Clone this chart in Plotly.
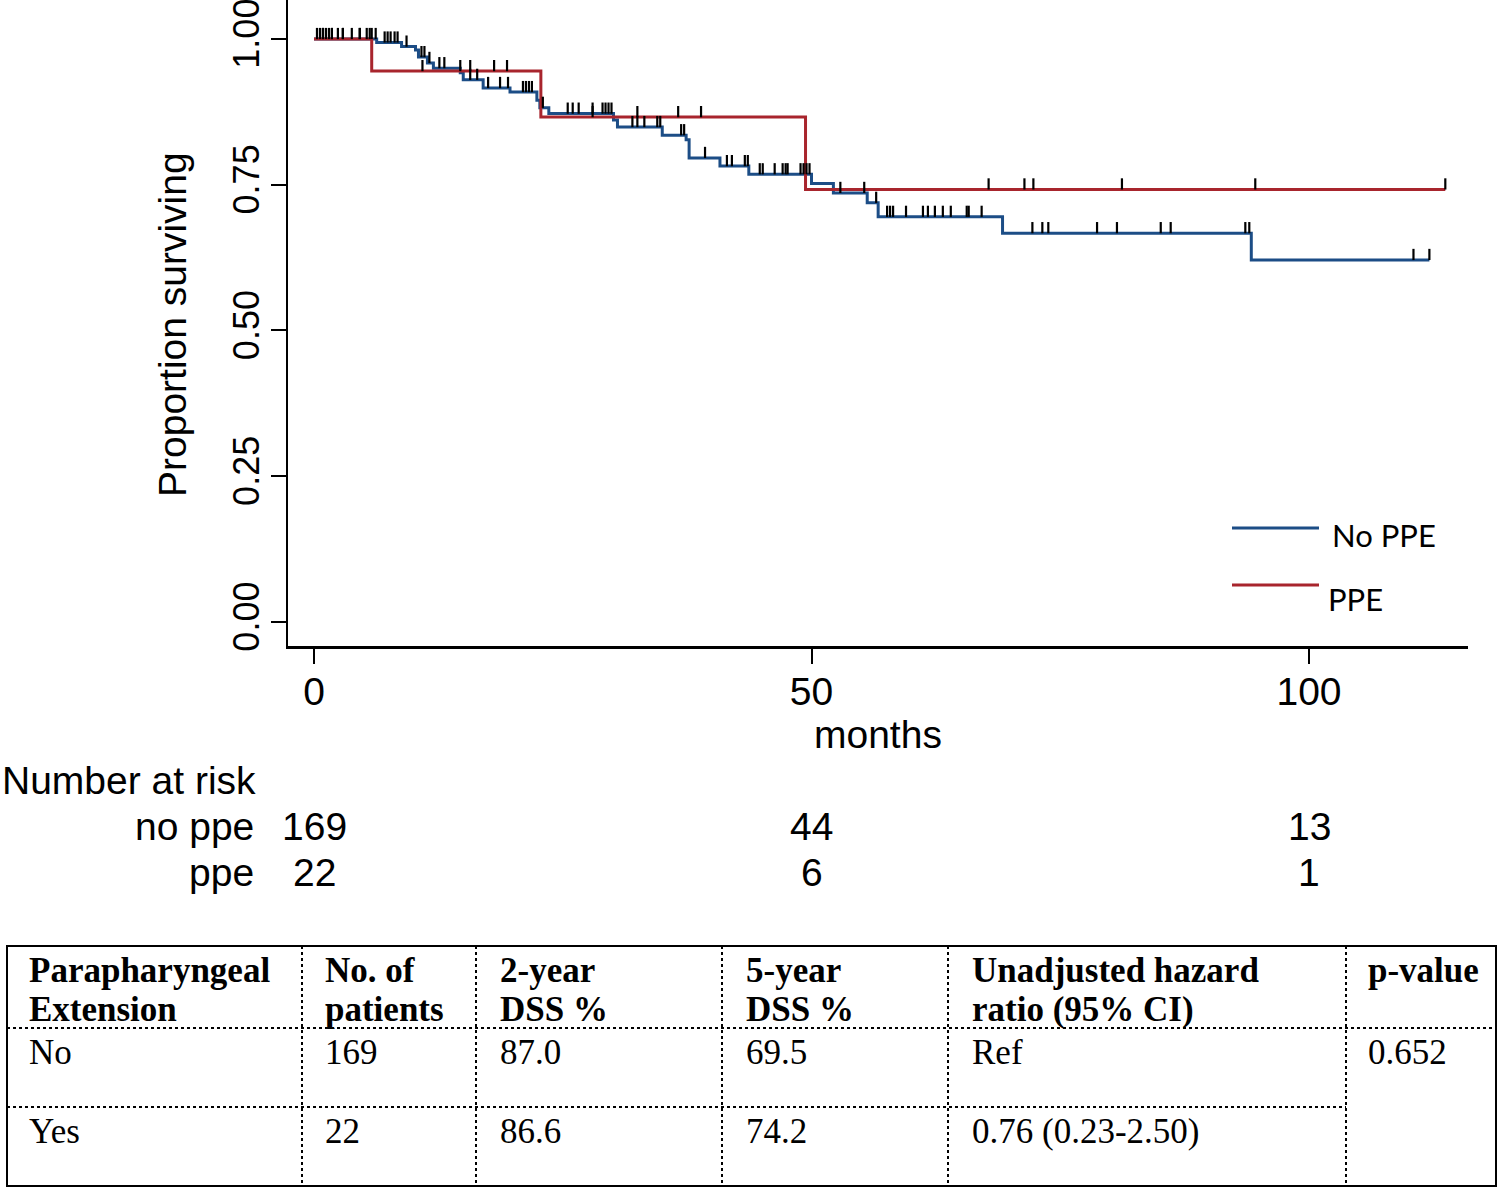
import numpy as np
import plotly.graph_objects as go

# Kaplan-Meier steps (months, survival after the event)
nopp_event_t = [6.3, 8.8, 10.2, 10.5, 11.4, 12.0, 14.7, 15.0, 17.0, 19.7, 22.4, 22.7,
                23.6, 30.1, 30.5, 35.0, 37.4, 37.7, 40.8, 43.7, 50.0, 52.2, 55.6, 56.7,
                69.2, 94.2]
nopp_event_s = [0.994, 0.987, 0.981, 0.969, 0.959, 0.950, 0.942, 0.930, 0.916, 0.909, 0.895, 0.882,
                0.872, 0.861, 0.849, 0.835, 0.827, 0.796, 0.782, 0.768, 0.752, 0.736, 0.719, 0.695,
                0.667, 0.621]
nopp_end = 112.1
nopp_censor = [0.3, 0.6, 0.9, 1.2, 1.5, 1.8, 2.4, 2.9, 3.8, 4.6, 5.3, 5.6, 5.8, 6.2,
               7.1, 7.4, 7.7, 8.1, 8.4, 9.3, 10.8, 11.1, 11.6, 12.6, 13.1, 15.7, 16.4,
               17.5, 18.7, 19.5, 21.0, 21.3, 21.6, 21.9, 23.0,
               25.5, 26.0, 26.6, 28.0, 29.0, 29.3, 29.6, 29.9,
               32.0, 32.5, 33.2, 34.5, 34.8, 36.9, 37.2, 39.3, 41.5, 42.0, 43.3, 43.6,
               44.8, 45.1, 46.3, 47.1, 47.4, 47.6, 48.9, 49.2, 49.5, 49.8,
               52.9, 55.3, 56.5, 57.6, 57.9, 58.2, 59.5, 61.2, 61.7, 62.4, 63.2, 64.0,
               65.6, 65.8, 67.1, 72.2, 73.2, 73.8, 78.7, 80.7, 85.1, 86.1, 93.6, 94.0,
               110.5, 112.1]

ppe_event_t = [5.8, 22.8, 49.4]
ppe_event_s = [0.945, 0.866, 0.742]
ppe_end = 113.7
ppe_censor = [0.9, 1.8, 2.9, 4.6, 10.9, 14.7, 15.7, 18.1, 19.4, 28.0, 32.5, 36.6, 38.9,
              67.8, 71.4, 72.3, 81.2, 94.6, 113.7]

risk_times = [0, 50, 100]
risk_nopp = [169, 44, 13]
risk_ppe = [22, 6, 1]

tbl_head = [["Parapharyngeal", "Extension"], ["No. of", "patients"], ["2-year", "DSS %"],
            ["5-year", "DSS %"], ["Unadjusted hazard", "ratio (95% CI)"], ["p-value", ""]]
tbl_rows = [["No", "169", "87.0", "69.5", "Ref", "0.652"],
            ["Yes", "22", "86.6", "74.2", "0.76 (0.23-2.50)", ""]]

BLUE = "#1c4d86"
RED = "#a8252d"

W, H = 1500, 1189
L, R, T, B = 288, 32, 0, 543
PW, PH = W - L - R, H - T - B


# helpers: reference-image pixel -> paper coordinate
def px(p):
    return (p - L) / PW


def py(p):
    return (H - B - p) / PH


def step_xy(times, surv, end):
    x = [0] + list(times) + [end]
    y = [1.0] + list(surv) + [surv[-1]]
    return x, y


def surv_at(times, surv, t):
    i = np.searchsorted(np.array(times), t, side="right")
    return 1.0 if i == 0 else surv[i - 1]


fig = go.Figure()
half_tick = 5.5 / 583  # tick rises from the curve

for times, surv, end, col, name in [
        (nopp_event_t, nopp_event_s, nopp_end, BLUE, "No PPE"),
        (ppe_event_t, ppe_event_s, ppe_end, RED, "PPE")]:
    x, y = step_xy(times, surv, end)
    fig.add_trace(go.Scatter(x=x, y=y, mode="lines", line=dict(color=col, width=3, shape="hv"),
                             name=name, showlegend=False))

for times, surv, cens in [(nopp_event_t, nopp_event_s, nopp_censor),
                          (ppe_event_t, ppe_event_s, ppe_censor)]:
    cy = [surv_at(times, surv, t) + half_tick for t in cens]
    fig.add_trace(go.Scatter(x=cens, y=cy, mode="markers", showlegend=False,
                             marker=dict(symbol="line-ns", size=8,
                                         line=dict(color="black", width=2.2))))

YT_FONT = dict(family="Liberation Sans, Arial", size=36, color="black")
AX_FONT = dict(family="Liberation Sans, Arial", size=39, color="black")

fig.update_layout(
    width=W, height=H, margin=dict(l=L, r=R, t=T, b=B),
    paper_bgcolor="white", plot_bgcolor="white",
    xaxis=dict(range=[-2.613, 115.98], tickvals=[0, 50, 100], ticks="outside", ticklen=15,
               tickwidth=1.5, tickcolor="black", showline=True, linecolor="black", linewidth=2.5,
               showgrid=False, zeroline=False, tickfont=AX_FONT, ticklabelstandoff=-6,
               automargin=False),
    yaxis=dict(range=[-0.0412, 1.0669], tickvals=[0, 0.25, 0.5, 0.75, 1.0],
               ticktext=["0.00", "0.25", "0.50", "0.75", "1.00"], tickangle=-90,
               ticks="outside", ticklen=15, tickwidth=1.5, tickcolor="black", showline=True,
               linecolor="black", linewidth=2, showgrid=False, zeroline=False,
               tickfont=YT_FONT, ticklabelstandoff=-2, automargin=False,
               ticklabeloverflow="allow"),
)

ann = []


def label(text, x, y, font, xanchor="center", xref="paper", **kw):
    ann.append(dict(text=text, x=x, y=y, xref=xref, yref="paper", xanchor=xanchor,
                    yanchor="middle", font=font, showarrow=False, **kw))


label("Proportion surviving", px(172), py(325), AX_FONT, textangle=-90)
label("months", px(878), py(734), AX_FONT)
label("Number at risk", px(0), py(780), AX_FONT, xanchor="left")
for lab, vals, yy in [("no ppe", risk_nopp, 826), ("ppe", risk_ppe, 872)]:
    label(lab, px(256), py(yy), AX_FONT, xanchor="right")
    for t, v in zip(risk_times, vals):
        label(str(v), t, py(yy), AX_FONT, xref="x")

# legend drawn inside the plot
LEG_FONT = dict(family="Lato, Carlito, sans-serif", size=31, color="black")
shapes = []
for col, yy, lab, ty, tx in [(BLUE, 528, "No PPE", 535, 1330), (RED, 585, "PPE", 599, 1326)]:
    shapes.append(dict(type="line", xref="paper", yref="paper", x0=px(1232), x1=px(1319),
                       y0=py(yy), y1=py(yy), line=dict(color=col, width=3)))
    label(lab, px(tx), py(ty), LEG_FONT, xanchor="left")

# table under the chart
TL, TR, TT, TB = 7, 1496, 946, 1186
col_x = [TL, 302, 476, 722, 948, 1346, TR]
shapes.append(dict(type="rect", xref="paper", yref="paper", x0=px(TL), x1=px(TR),
                   y0=py(TT), y1=py(TB), line=dict(color="black", width=2)))
for cx in col_x[1:-1]:
    shapes.append(dict(type="line", xref="paper", yref="paper", x0=px(cx), x1=px(cx),
                       y0=py(TT), y1=py(TB), line=dict(color="black", width=2, dash="dot")))
shapes.append(dict(type="line", xref="paper", yref="paper", x0=px(TL), x1=px(TR),
                   y0=py(1028), y1=py(1028), line=dict(color="black", width=2, dash="dot")))
shapes.append(dict(type="line", xref="paper", yref="paper", x0=px(TL), x1=px(1346),
                   y0=py(1107), y1=py(1107), line=dict(color="black", width=2, dash="dot")))

TBL_FONT = dict(family="Liberation Serif, Times New Roman", size=35, color="black")
text_x = [27, 323, 498, 744, 970, 1366]
for i, (h1, h2) in enumerate(tbl_head):
    for txt, yy in [(h1, 970), (h2, 1010)]:
        if txt:
            label("<b>" + txt + "</b>", px(text_x[i]), py(yy), TBL_FONT, xanchor="left")
for row, yy in zip(tbl_rows, [1052, 1131]):
    for i, txt in enumerate(row):
        if txt:
            label(txt, px(text_x[i]), py(yy), TBL_FONT, xanchor="left")

fig.update_layout(annotations=ann, shapes=shapes)
# drop the browser's default 8px body margin so the figure sits at the page corner
fig.write_html("out.html", config={"displayModeBar": False},
               post_script="document.body.style.margin='0';")
